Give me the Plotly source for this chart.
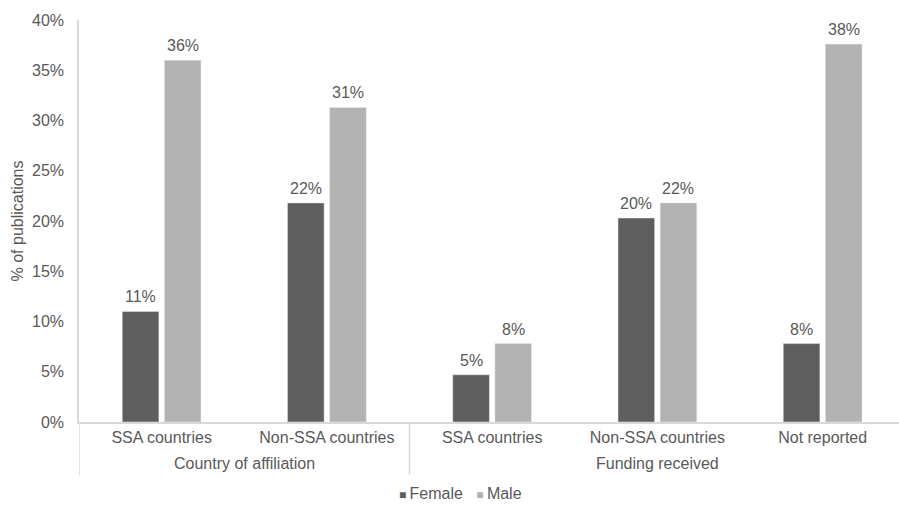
import plotly.graph_objects as go

groups = ["Country of affiliation", "Country of affiliation",
          "Funding received", "Funding received", "Funding received"]
categories = ["SSA countries", "Non-SSA countries",
              "SSA countries", "Non-SSA countries", "Not reported"]
female = [11.0, 21.8, 4.7, 20.3, 7.8]
male = [36.0, 31.3, 7.8, 21.8, 37.6]
series_names = ["Female", "Male"]
yticks = [0, 5, 10, 15, 20, 25, 30, 35, 40]

FONT = "Liberation Sans, Arial, Helvetica, sans-serif"
TXT = "#595959"
COLORS = ["#5e5e5e", "#b2b2b2"]
LINE = "#d9d9d9"
BARGAP = 0.49
BARGROUPGAP = 0.13

xi = list(range(len(categories)))

fig = go.Figure()
slot = (1 - BARGAP) / 2
for k, (name, vals) in enumerate(zip(series_names, [female, male])):
    fig.add_trace(go.Bar(x=xi, y=vals, name=name, marker_color=COLORS[k],
                         showlegend=False, hoverinfo="x+y"))
    off = (k - 0.5) * slot
    for i, v in zip(xi, vals):
        fig.add_annotation(x=i + off, y=v, xref="x", yref="y",
                           text=f"{v:.0f}%", showarrow=False,
                           yanchor="bottom", yshift=4,
                           font=dict(size=16, color=TXT))

# outer group labels and dividers
bounds = [-0.5]
for i in range(1, len(groups)):
    if groups[i] != groups[i - 1]:
        bounds.append(i - 0.5)
uniq = []
for i, g in enumerate(groups):
    if not uniq or uniq[-1][0] != g:
        uniq.append([g, [i]])
    else:
        uniq[-1][1].append(i)
for g, idx in uniq:
    fig.add_annotation(x=sum(idx) / len(idx), y=0, xref="x", yref="paper",
                       text=g, showarrow=False, yanchor="middle", yshift=-41,
                       font=dict(size=16, color=TXT))
for b in bounds:
    fig.add_shape(type="line", xref="x", yref="paper", x0=b, x1=b,
                  ysizemode="pixel", yanchor=0, y0=0, y1=-53,
                  line=dict(color=LINE, width=1.5))

# legend as text
fig.add_annotation(
    xref="paper", yref="paper", x=(460 - 79) / 820, y=0, yshift=-71,
    xanchor="center", yanchor="middle", showarrow=False,
    text=(f'<span style="color:{COLORS[0]};font-size:12px">■ </span>{series_names[0]}'
          f'<span style="font-size:16px">   </span>'
          f'<span style="color:{COLORS[1]};font-size:12px">■ </span>{series_names[1]}'),
    font=dict(size=16, color=TXT))

fig.update_layout(
    width=899, height=505,
    margin=dict(l=79, r=0, t=20, b=83),
    paper_bgcolor="white", plot_bgcolor="white",
    font=dict(family=FONT, size=16, color=TXT),
    barmode="group", bargap=BARGAP, bargroupgap=BARGROUPGAP,
    showlegend=False,
    xaxis=dict(range=[-0.5, 4.462], tickvals=xi, ticktext=categories,
               showline=True, linecolor=LINE, linewidth=1.5,
               showgrid=False, zeroline=False, ticks="",
               tickfont=dict(size=16, color=TXT)),
    yaxis=dict(range=[0, 40], tickvals=yticks,
               ticktext=[f"{v}%" for v in yticks],
               showgrid=False, zeroline=False,
               showline=True, linecolor=LINE, linewidth=1.5,
               ticks="", ticklabelstandoff=10,
               tickfont=dict(size=16, color=TXT),
               title=dict(text="% of publications", standoff=4,
                          font=dict(size=16, color=TXT))),
)

fig.write_html("out.html")
